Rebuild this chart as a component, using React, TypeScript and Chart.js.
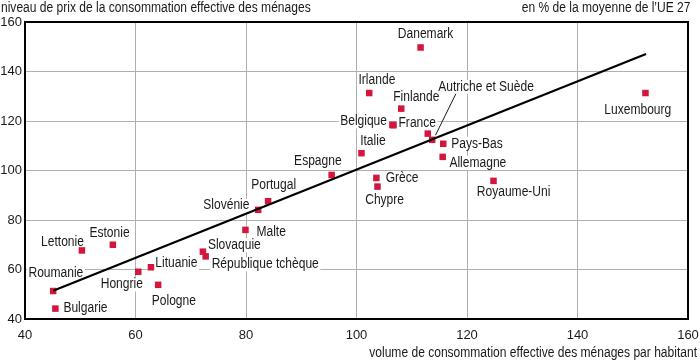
import React, { useEffect, useRef } from "react";
import { Chart, registerables } from "chart.js";

Chart.register(...registerables);

// ---- Data ----
const countries = [
  "Danemark", "Irlande", "Finlande", "Belgique", "France", "Autriche", "Suède",
  "Pays-Bas", "Allemagne", "Italie", "Luxembourg", "Royaume-Uni", "Grèce", "Chypre",
  "Espagne", "Portugal", "Slovénie", "Malte", "Slovaquie", "République tchèque",
  "Lituanie", "Hongrie", "Pologne", "Estonie", "Lettonie", "Roumanie", "Bulgarie",
];
// volume de consommation effective des ménages par habitant
const volume = [
  111.6, 102.3, 108.1, 106.5, 106.7, 112.9, 113.7,
  115.7, 115.6, 100.9, 152.3, 124.8, 103.6, 103.8,
  95.5, 84.0, 82.2, 79.9, 72.2, 72.7,
  62.8, 60.5, 64.1, 55.9, 50.3, 45.1, 45.5,
];
// niveau de prix de la consommation effective des ménages
const prix = [
  149.7, 131.3, 125.0, 118.4, 118.3, 114.9, 112.4,
  110.8, 105.5, 107.0, 131.3, 95.8, 97.0, 93.5,
  98.2, 87.6, 84.1, 76.0, 67.2, 65.3,
  60.9, 59.1, 53.8, 70.0, 67.7, 51.3, 44.2,
];
// regression line end points
const trendX = [45.1, 152.4];
const trendY = [51.4, 147.1];

const axisMin = 40;
const axisMax = 160;
const axisStep = 20;

const topLeftTitle = "niveau de prix de la consommation effective des ménages";
const topRightTitle = "en % de la moyenne de l’UE 27";
const bottomTitle = "volume de consommation effective des ménages par habitant";

// ---- Label placement (style) ----
type Lbl = { text: string; align: "left" | "right" | "center"; dx: number; dy: number; leader?: [number, number, number, number] };
const labelStyle: Record<string, Lbl> = {
  "Danemark": { text: "Danemark", align: "center", dx: 5, dy: -13.4 },
  "Irlande": { text: "Irlande", align: "left", dx: -10.7, dy: -12.6 },
  "Finlande": { text: "Finlande", align: "left", dx: -8, dy: -11.7 },
  "Belgique": { text: "Belgique", align: "right", dx: -5.4, dy: -3.6 },
  "France": { text: "France", align: "left", dx: 5, dy: -2.3 },
  "Suède": { text: "Autriche et Suède", align: "left", dx: 6, dy: -53, leader: [23.7, -46, 3.3, -4.6] },
  "Pays-Bas": { text: "Pays-Bas", align: "left", dx: 8, dy: 0 },
  "Allemagne": { text: "Allemagne", align: "left", dx: 6.7, dy: 6 },
  "Italie": { text: "Italie", align: "left", dx: -1.3, dy: -12 },
  "Luxembourg": { text: "Luxembourg", align: "center", dx: -7.7, dy: 16.7 },
  "Royaume-Uni": { text: "Royaume-Uni", align: "left", dx: -16.7, dy: 11.4 },
  "Grèce": { text: "Grèce", align: "left", dx: 9.3, dy: 0.7 },
  "Chypre": { text: "Chypre", align: "left", dx: -12.3, dy: 14 },
  "Espagne": { text: "Espagne", align: "right", dx: 10, dy: -13.6 },
  "Portugal": { text: "Portugal", align: "center", dx: 5.6, dy: -16.4 },
  "Slovénie": { text: "Slovénie", align: "right", dx: -8.7, dy: -4.3 },
  "Malte": { text: "Malte", align: "left", dx: 11, dy: 2 },
  "Slovaquie": { text: "Slovaquie", align: "left", dx: 5, dy: -6.3 },
  "République tchèque": { text: "République tchèque", align: "left", dx: 6, dy: 8 },
  "Lituanie": { text: "Lituanie", align: "left", dx: 4.3, dy: -3.7 },
  "Hongrie": { text: "Hongrie", align: "right", dx: 4.6, dy: 12.7 },
  "Pologne": { text: "Pologne", align: "center", dx: 15.7, dy: 16.4 },
  "Estonie": { text: "Estonie", align: "center", dx: -3.3, dy: -12 },
  "Lettonie": { text: "Lettonie", align: "right", dx: 2, dy: -8.3 },
  "Roumanie": { text: "Roumanie", align: "center", dx: 2.7, dy: -17.7 },
  "Bulgarie": { text: "Bulgarie", align: "left", dx: 8, dy: 0 },
};

const FONT = '14px "Liberation Sans", Arial, sans-serif';
const SX = 0.86;
const TEXT = "#1a1a1a";
const RED = "#d4163d";

function textWidth(ctx: CanvasRenderingContext2D, t: string) {
  ctx.font = FONT;
  return ctx.measureText(t).width * SX;
}

function drawText(ctx: CanvasRenderingContext2D, t: string, x: number, y: number, align: "left" | "right" | "center", bg: boolean) {
  const w = textWidth(ctx, t);
  const left = align === "left" ? x : align === "right" ? x - w : x - w / 2;
  if (bg) {
    ctx.fillStyle = "#ffffff";
    ctx.fillRect(left - 1.5, y - 7, w + 3, 14);
  }
  ctx.save();
  ctx.translate(left, y);
  ctx.scale(SX, 1);
  ctx.font = FONT;
  ctx.fillStyle = TEXT;
  ctx.textAlign = "left";
  ctx.textBaseline = "middle";
  ctx.fillText(t, 0, 0);
  ctx.restore();
}

const labelsPlugin = {
  id: "pointLabels",
  beforeDatasetsDraw(chart: any) {
    const ctx: CanvasRenderingContext2D = chart.ctx;
    const xs = chart.scales.x;
    const ys = chart.scales.y;
    ctx.save();
    countries.forEach((c, i) => {
      const st = labelStyle[c];
      if (!st) return;
      const px = xs.getPixelForValue(volume[i]);
      const py = ys.getPixelForValue(prix[i]);
      drawText(ctx, st.text, px + st.dx, py + st.dy, st.align, true);
      if (st.leader) {
        ctx.beginPath();
        ctx.strokeStyle = TEXT;
        ctx.lineWidth = 1;
        ctx.moveTo(px + st.leader[0], py + st.leader[1]);
        ctx.lineTo(px + st.leader[2], py + st.leader[3]);
        ctx.stroke();
      }
    });
    // frame
    const a = chart.chartArea;
    ctx.strokeStyle = "#000";
    ctx.lineWidth = 2;
    ctx.strokeRect(a.left, a.top, a.right - a.left, a.bottom - a.top);
    ctx.restore();
  },
  afterDraw(chart: any) {
    const ctx: CanvasRenderingContext2D = chart.ctx;
    const a = chart.chartArea;
    ctx.save();
    drawText(ctx, topLeftTitle, 1, 8, "left", false);
    drawText(ctx, topRightTitle, a.right + 2.5, 8, "right", false);
    drawText(ctx, bottomTitle, 697, 353, "right", false);
    ctx.restore();
  },
};

export default function App() {
  const ref = useRef<HTMLCanvasElement | null>(null);

  useEffect(() => {
    document.body.style.margin = "0";
    if (!ref.current) return;
    const tickFont = { family: '"Liberation Sans", Arial, sans-serif', size: 13 };
    const chart = new Chart(ref.current, {
      type: "scatter",
      data: {
        datasets: [
          {
            type: "line",
            data: trendX.map((x, i) => ({ x, y: trendY[i] })),
            borderColor: "#000",
            borderWidth: 2.2,
            pointRadius: 0,
            fill: false,
          } as any,
          {
            data: volume.map((x, i) => ({ x, y: prix[i] })),
            pointStyle: "rect",
            pointRadius: 4.6,
            backgroundColor: RED,
            borderWidth: 0,
          },
        ],
      },
      options: {
        animation: false,
        responsive: false,
        devicePixelRatio: 1,
        layout: { padding: { top: 22, right: 12, bottom: 0, left: 0 } },
        plugins: { legend: { display: false }, tooltip: { enabled: false } },
        scales: {
          x: {
            type: "linear",
            min: axisMin,
            max: axisMax,
            ticks: { stepSize: axisStep, padding: 9, color: TEXT, font: tickFont, maxRotation: 0 },
            grid: { color: "#b0b0b0", lineWidth: 1, drawTicks: false },
            border: { color: "#000", width: 2 },
            afterFit: (s: any) => { s.height = 42; s.paddingLeft = 0; s.paddingRight = 0; },
          },
          y: {
            type: "linear",
            min: axisMin,
            max: axisMax,
            ticks: { stepSize: axisStep, padding: 3, color: TEXT, font: tickFont },
            grid: { color: "#b0b0b0", lineWidth: 1, drawTicks: false },
            border: { color: "#000", width: 2 },
            afterFit: (s: any) => { s.width = 25; s.paddingTop = 0; s.paddingBottom = 0; },
          },
        },
      },
      plugins: [labelsPlugin],
    });
    return () => chart.destroy();
  }, []);

  return (
    <div style={{ width: 700, height: 361 }}>
      <canvas ref={ref} width={700} height={361} />
    </div>
  );
}
